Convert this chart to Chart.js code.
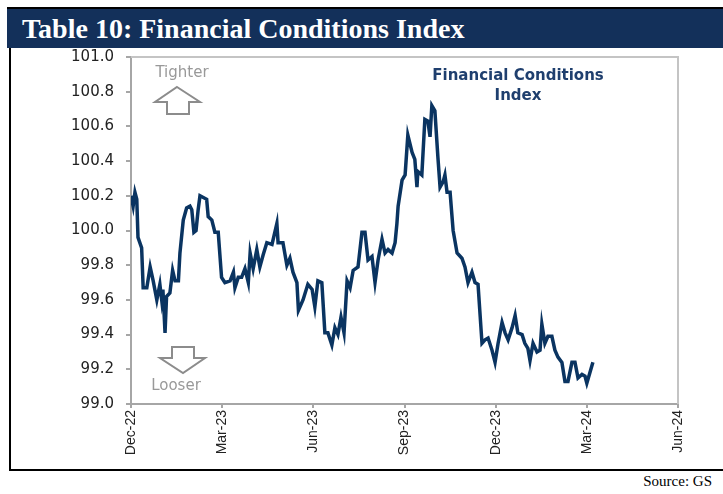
<!DOCTYPE html>
<html>
<head>
<meta charset="utf-8">
<script src="https://cdn.jsdelivr.net/npm/chart.js@4.4.1/dist/chart.umd.min.js"></script>
<style>
  body { margin: 0; background: #fff; width: 723px; height: 494px; overflow: hidden; position: relative; }
  #topline { position: absolute; left: 7px; top: 7px; width: 716px; height: 2px; background: #000; }
  #title { position: absolute; left: 7px; top: 9px; width: 701px; height: 39px; padding-left: 15px;
           background: #13305a; color: #fff; font: bold 28px "Liberation Serif", serif; line-height: 40px; }
  #leftline { position: absolute; left: 9px; top: 48px; width: 2px; height: 423px; background: #000; }
  #bottomline { position: absolute; left: 9px; top: 469px; width: 714px; height: 2px; background: #000; }
  #source { position: absolute; right: 11px; top: 473px; font: 15px "Liberation Serif", serif; color: #000; }
  #fci { position: absolute; left: 0; top: 0; }
</style>
</head>
<body>
<div id="topline"></div>
<div id="title">Table 10: Financial Conditions Index</div>
<div id="leftline"></div>
<div id="bottomline"></div>
<div id="source">Source: GS</div>
<canvas id="fci" width="723" height="494"></canvas>
<script>
// months after Dec-22 (x) and index level (y)
const months = [
    0, 0.07, 0.13, 0.19, 0.23, 0.35, 0.40, 0.52, 0.63, 0.73,
    0.85, 0.95, 1.01, 1.05, 1.12, 1.17, 1.28, 1.37, 1.45, 1.56,
    1.61, 1.72, 1.83, 1.94, 2.00, 2.07, 2.14, 2.21, 2.27, 2.38,
    2.49, 2.54, 2.66, 2.76, 2.87, 2.98, 3.09, 3.26, 3.37, 3.42,
    3.53, 3.64, 3.75, 3.86, 3.92, 4.02, 4.14, 4.24, 4.35, 4.47,
    4.64, 4.80, 4.84, 5.00, 5.13, 5.23, 5.33, 5.46, 5.51, 5.66,
    5.82, 5.96, 6.05, 6.15, 6.28, 6.38, 6.48, 6.61, 6.71, 6.81,
    6.91, 7.01, 7.11, 7.21, 7.31, 7.47, 7.60, 7.70, 7.80, 7.93,
    8.03, 8.13, 8.26, 8.36, 8.46, 8.59, 8.69, 8.75, 8.79, 8.92,
    9.02, 9.11, 9.25, 9.34, 9.41, 9.44, 9.57, 9.67, 9.77, 9.84,
    9.90, 10.00, 10.10, 10.17, 10.27, 10.33, 10.40, 10.50, 10.60, 10.73,
    10.89, 10.99, 11.09, 11.22, 11.32, 11.42, 11.55, 11.65, 11.75, 11.88,
    11.98, 12.08, 12.21, 12.31, 12.41, 12.54, 12.64, 12.73, 12.87, 12.96,
    13.06, 13.13, 13.23, 13.36, 13.46, 13.52, 13.62, 13.72, 13.85, 13.95,
    14.05, 14.18, 14.28, 14.38, 14.51, 14.61, 14.71, 14.84, 14.94, 15.00,
    15.10, 15.20
];

const fciValues = [
    100.20, 100.14, 100.22, 100.18, 99.96, 99.90, 99.67, 99.67, 99.79, 99.71,
    99.60, 99.69, 99.60, 99.66, 99.41, 99.62, 99.64, 99.77, 99.71, 99.71,
    99.87, 100.06, 100.13, 100.14, 100.12, 99.99, 100.00, 100.12, 100.20, 100.19,
    100.18, 100.08, 100.06, 99.99, 99.99, 99.73, 99.70, 99.71, 99.76, 99.67,
    99.73, 99.73, 99.78, 99.70, 99.87, 99.78, 99.89, 99.79, 99.86, 99.93,
    99.92, 100.04, 99.93, 99.93, 99.80, 99.84, 99.76, 99.70, 99.54, 99.60,
    99.69, 99.66, 99.56, 99.71, 99.70, 99.41, 99.41, 99.34, 99.44, 99.40,
    99.50, 99.41, 99.71, 99.67, 99.77, 99.79, 99.99, 99.99, 99.83, 99.85,
    99.70, 99.83, 99.95, 99.87, 99.89, 99.87, 99.93, 100.04, 100.14, 100.29,
    100.32, 100.55, 100.45, 100.41, 100.25, 100.34, 100.32, 100.64, 100.63, 100.54,
    100.72, 100.69, 100.42, 100.25, 100.28, 100.32, 100.22, 100.22, 100.00, 99.87,
    99.84, 99.79, 99.70, 99.76, 99.70, 99.69, 99.35, 99.37, 99.38, 99.31,
    99.24, 99.35, 99.47, 99.41, 99.37, 99.44, 99.51, 99.41, 99.40, 99.35,
    99.32, 99.25, 99.35, 99.30, 99.31, 99.46, 99.35, 99.39, 99.39, 99.31,
    99.27, 99.24, 99.13, 99.13, 99.24, 99.24, 99.15, 99.17, 99.16, 99.12,
    99.18, 99.24
];

const xTickLabels = ['Dec-22', 'Mar-23', 'Jun-23', 'Sep-23', 'Dec-23', 'Mar-24', 'Jun-24'];
const yMin = 99.0, yMax = 101.0, yStep = 0.2;

const points = months.map((m, i) => ({ x: m, y: fciValues[i] }));

function drawArrow(ctx, pts) {
    ctx.beginPath();
    ctx.moveTo(pts[0][0], pts[0][1]);
    for (let i = 1; i < pts.length; i++) ctx.lineTo(pts[i][0], pts[i][1]);
    ctx.closePath();
    ctx.fillStyle = '#fff';
    ctx.fill();
    ctx.strokeStyle = '#8c8c8c';
    ctx.lineWidth = 2;
    ctx.stroke();
}

const framePlugin = {
    id: 'frame',
    beforeDatasetsDraw(chart) {
        const { ctx, chartArea: a } = chart;
        ctx.save();
        ctx.strokeStyle = '#c4c4c4';
        ctx.lineWidth = 2;
        ctx.beginPath();
        ctx.moveTo(a.left, a.top);
        ctx.lineTo(a.right, a.top);
        ctx.lineTo(a.right, a.bottom);
        ctx.stroke();
        ctx.restore();
    },
    afterDraw(chart) {
        const { ctx, chartArea: a } = chart;
        const L = a.left, T = a.top;
        ctx.save();
        // tighter / looser markers
        drawArrow(ctx, [[L + 46, T + 30], [L + 69, T + 45], [L + 58, T + 45], [L + 58, T + 57],
                        [L + 36, T + 57], [L + 36, T + 45], [L + 24, T + 45]]);
        drawArrow(ctx, [[L + 41, T + 290], [L + 63, T + 290], [L + 63, T + 301], [L + 74, T + 301],
                        [L + 52, T + 316], [L + 29, T + 301], [L + 41, T + 301]]);
        ctx.fillStyle = '#999';
        ctx.font = '15px "DejaVu Sans", sans-serif';
        ctx.textAlign = 'center';
        ctx.textBaseline = 'middle';
        ctx.fillText('Tighter', L + 51, T + 16);
        ctx.fillText('Looser', L + 45, T + 329);
        // series label
        ctx.fillStyle = '#1f3f6e';
        ctx.font = 'bold 15px "DejaVu Sans", sans-serif';
        ctx.fillText('Financial Conditions', L + 387, T + 19);
        ctx.fillText('Index', L + 387, T + 39);
        ctx.restore();
    }
};

new Chart(document.getElementById('fci'), {
    type: 'line',
    data: {
        datasets: [{
            label: 'Financial Conditions Index',
            data: points,
            borderColor: '#0a3461',
            borderWidth: 3.5,
            pointRadius: 0,
            tension: 0,
            fill: false
        }]
    },
    options: {
        responsive: false,
        animation: false,
        layout: { padding: { left: 71, top: 57, right: 45, bottom: 30 } },
        plugins: {
            legend: { display: false },
            tooltip: { enabled: false }
        },
        scales: {
            x: {
                type: 'linear',
                min: 0,
                max: 18,
                afterFit(scale) { scale.height = 60; },
                border: { display: true, color: '#a6a6a6', width: 2 },
                grid: { drawOnChartArea: false, drawTicks: true, tickLength: 4, color: '#a6a6a6', lineWidth: 2 },
                ticks: {
                    stepSize: 3,
                    autoSkip: false,
                    minRotation: 90,
                    maxRotation: 90,
                    padding: 2,
                    color: '#222',
                    font: { family: 'Liberation Sans', size: 14 },
                    callback: v => xTickLabels[Math.round(v / 3)]
                }
            },
            y: {
                min: yMin,
                max: yMax,
                afterFit(scale) { scale.width = 60; },
                border: { display: true, color: '#a6a6a6', width: 2 },
                grid: { drawOnChartArea: false, drawTicks: true, tickLength: 5, color: '#a6a6a6', lineWidth: 2 },
                ticks: {
                    stepSize: yStep,
                    padding: 12,
                    color: '#222',
                    font: { family: 'DejaVu Sans', size: 15 },
                    callback: v => Number(v).toFixed(1)
                }
            }
        }
    },
    plugins: [framePlugin]
});
</script>
</body>
</html>
